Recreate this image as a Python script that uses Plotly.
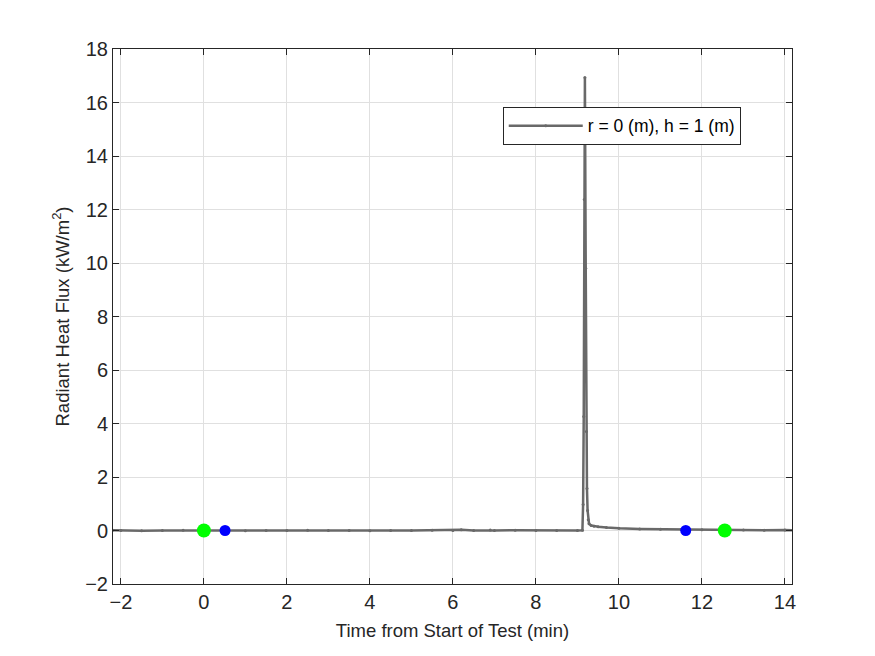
import plotly.graph_objects as go

# Data (minutes, kW/m^2)
time_min = [-2.2, -2.0, -1.5, -1.0, -0.5, 0.0, 0.5, 1.0, 1.5, 2.0, 2.5, 3.0, 3.5, 4.0,
            4.5, 5.0, 5.5, 6.0, 6.2, 6.5, 6.9, 7.0, 7.5, 8.0, 8.5, 9.0, 9.12,
            9.137, 9.152, 9.165, 9.18, 9.2, 9.215, 9.23, 9.245, 9.26, 9.28, 9.33,
            9.4, 9.5, 9.7, 10.0, 10.5, 11.0, 11.5, 12.0, 12.5, 13.0, 13.5, 14.0, 14.2]
flux = [0.01, 0.0, -0.01, 0.0, 0.01, 0.0, 0.0, -0.01, 0.0, 0.0, 0.01, 0.0, 0.0, -0.01,
        0.0, 0.0, 0.01, 0.0, 0.03, 0.0, 0.02, 0.0, 0.01, 0.0, 0.0, 0.0, 0.01,
        0.97, 4.26, 12.37, 16.93, 9.8, 3.7, 1.57, 0.75, 0.4, 0.25, 0.19,
        0.16, 0.14, 0.11, 0.08, 0.06, 0.05, 0.04, 0.03, 0.02, 0.02, 0.01, 0.02, 0.01]

green_t = [0.0, 12.55]
green_v = [0.0, 0.0]
blue_t = [0.51, 11.61]
blue_v = [0.0, 0.0]

series_name = "r = 0 (m), h = 1 (m)"

fig = go.Figure()
fig.add_trace(go.Scatter(x=time_min, y=flux, mode="lines+markers", name=series_name,
                         line=dict(color="rgb(105,105,105)", width=2.5),
                         marker=dict(color="rgb(105,105,105)", size=3)))
fig.add_trace(go.Scatter(x=green_t, y=green_v, mode="markers", showlegend=False,
                         marker=dict(color="#00ff00", size=14)))
fig.add_trace(go.Scatter(x=blue_t, y=blue_v, mode="markers", showlegend=False,
                         marker=dict(color="#0000ff", size=11)))

axis_common = dict(showline=True, linecolor="#262626", linewidth=1, mirror="ticks",
                   ticks="inside", ticklen=6, tickcolor="#262626",
                   showgrid=True, gridcolor="#e0e0e0", gridwidth=1, zeroline=False,
                   tickfont=dict(family="Liberation Sans, Arial", size=20, color="#262626"))

fig.update_layout(
    width=875, height=656,
    margin=dict(l=113, r=83, t=49, b=72),
    paper_bgcolor="white", plot_bgcolor="white",
    font=dict(family="Liberation Sans, Arial", color="#262626"),
    xaxis=dict(range=[-2.19, 14.17], dtick=2, tick0=0,
               title=dict(text="Time from Start of Test (min)", font=dict(size=18.5), standoff=12),
               **axis_common),
    yaxis=dict(range=[-2, 18], dtick=2, tick0=0,
               title=dict(text="Radiant Heat Flux (kW/m<sup>2</sup>)", font=dict(size=18.5), standoff=10),
               **axis_common),
    legend=dict(x=0.574, y=0.892, xanchor="left", yanchor="top",
                bgcolor="white", bordercolor="#262626", borderwidth=1,
                itemwidth=74, tracegroupgap=0,
                font=dict(size=17.5, color="#000000")),
    showlegend=True,
)

fig.write_html("out.html")
